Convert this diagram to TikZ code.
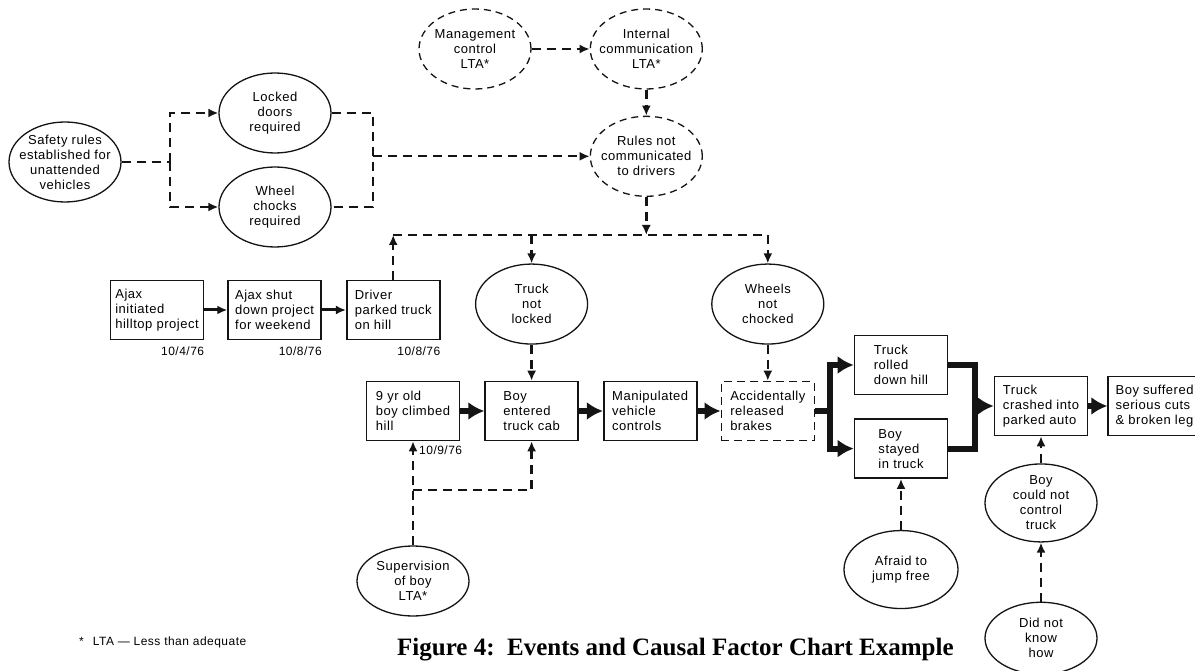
\documentclass[tikz,border=0pt]{standalone}
\usepackage{fontspec}
\usepackage{xcolor}
\usepackage{tikz}
\usetikzlibrary{calc, arrows.meta, shapes.geometric, positioning}
\newfontfamily\chartfont[LetterSpace=4]{Liberation Sans}
\newfontfamily\captionfont{Liberation Serif}
\newcommand{\chartsize}{\fontsize{13pt}{15pt}\selectfont}
\newcommand{\datesize}{\fontsize{12pt}{14pt}\selectfont}
\definecolor{inkblack}{HTML}{141414}
\tikzset{
  eventbox/.style={
    rectangle, draw=inkblack, line width=1.6pt, fill=white,
    minimum width=93pt, minimum height=59pt, inner sep=3pt,
    align=left, font=\chartfont\chartsize
  },
  guessbox/.style={eventbox, dash pattern=on 8pt off 5pt},
  factor/.style={
    ellipse, draw=inkblack, line width=1.3pt, fill=white,
    minimum width=112pt, minimum height=80pt,
    inner xsep=-30pt, inner ysep=-20pt,
    align=center, font=\chartfont\chartsize
  },
  lfactor/.style={factor, dash pattern=on 7pt off 5pt},
  datelabel/.style={inner sep=0pt, font=\chartfont\datesize},
  causal/.style={line width=2.4pt, dash pattern=on 9pt off 6pt, color=inkblack},
  causalarrow/.style={causal, -{Latex[length=10pt, width=9pt]}},
  datearrow/.style={line width=3pt, color=inkblack, -{Latex[length=10pt, width=9pt]}},
  eventline/.style={line width=6pt, color=inkblack},
  eventarrow/.style={eventline, -{Latex[length=16pt, width=18pt]}},
}

\begin{document}
\begin{tikzpicture}[x=1pt, y=-1pt]
  \useasboundingbox (0,0) rectangle (1195,671);
  \fill[white] (0,0) rectangle (1195,671);

  % --- Regler ---
  \node[factor] (safety) at (65,162) {Safety rules\\established for\\unattended\\vehicles};
  \node[factor] (locked) at (275,113) {Locked\\doors\\required};
  \node[factor] (chocks) at (275,207) {Wheel\\chocks\\required};

  % --- Ledelse ---
  \node[lfactor] (mgmt) at (475,49) {Management\\control\\LTA*};
  \node[lfactor, right=58pt of mgmt] (intcomm) {Internal\\communication\\LTA*};
  \node[lfactor, below=26pt of intcomm] (rules) {Rules not\\communicated\\to drivers};

  % --- Ajax-forløb ---
  \node[eventbox] (ajaxinit) at (157,310) {Ajax\\initiated\\hilltop project};
  \node[eventbox, right=23pt of ajaxinit] (ajaxshut) {Ajax shut\\down project\\for weekend};
  \node[eventbox, right=24pt of ajaxshut] (driver) {Driver\\parked truck\\on hill};

  \node[datelabel, anchor=north east] (dateinit) at ([yshift=-6pt]ajaxinit.south east) {10/4/76};
  \node[datelabel, anchor=north east] (dateshut) at ([yshift=-6pt]ajaxshut.south east) {10/8/76};
  \node[datelabel, anchor=north east] (datepark) at ([yshift=-6pt]driver.south east) {10/8/76};

  % --- Hovedforløb ---
  \node[eventbox] (climb) at (413,411) {9 yr old\\boy climbed\\hill};
  \node[eventbox, right=24pt of climb] (entered) {Boy\\entered\\truck cab};
  \node[eventbox, right=24pt of entered] (manip) {Manipulated\\vehicle\\controls};
  \node[guessbox, right=23pt of manip] (brakes) {Accidentally\\released\\brakes};
  \node[datelabel, anchor=north west] (dateclimb) at ([xshift=6pt, yshift=-4pt]climb.south) {10/9/76};

  \node[factor, above=36pt of entered] (trucklock) {Truck\\not\\locked};
  \node[factor, above=36pt of brakes] (wheels) {Wheels\\not\\chocked};
  \node[factor, minimum height=70pt] (supervise) at (413,581) {Supervision\\of boy\\LTA*};

  % --- Udfald ---
  \node[eventbox] (rolled) at (901,365) {Truck\\rolled\\down hill};
  \node[eventbox, below=23pt of rolled] (stayed) {Boy\\stayed\\in truck};
  \node[eventbox] (crashed) at (1041,406) {Truck\\crashed into\\parked auto};
  \node[eventbox, right=19pt of crashed] (injured) {Boy suffered\\serious cuts\\\& broken leg};

  \node[factor, minimum width=114pt, minimum height=78pt, below=51pt of stayed] (afraid) {Afraid to\\jump free};
  \node[factor, minimum height=78pt, below=27pt of crashed] (control) {Boy\\could not\\control\\truck};
  \node[factor, minimum height=72pt, below=59pt of control] (knowhow) {Did not\\know\\how};

  % --- Knudepunkter ---
  \coordinate (split) at (safety.east -| 170,0);
  \coordinate (join) at (rules.west -| 373,0);
  \coordinate (bus) at (rules.south |- 0,235);
  \coordinate (supfork) at (413,490);
  \coordinate (brakefork) at (brakes.east -| 830,0);
  \coordinate (rolljoin) at (crashed.west -| 975,0);

  % --- Regler -> kommunikation ---
  \draw[causal] (safety.east) -- (split);
  \draw[causalarrow] (split) |- (locked.west);
  \draw[causalarrow] (split) |- (chocks.west);
  \draw[causal] (locked.east) -| (join) |- (chocks.east);
  \draw[causalarrow] (join) -- (rules.west);
  \draw[causalarrow] (mgmt.east) -- (intcomm.west);
  \draw[causalarrow] (intcomm.south) -- (rules.north);

  % --- Fælles linje ---
  \draw[causalarrow] (rules.south) -- (bus);
  \draw[causalarrow] (driver.north) -- (driver.north |- bus);
  \draw[causal] (driver.north |- bus) -- (wheels.north |- bus);
  \draw[causalarrow] (trucklock.north |- bus) -- (trucklock.north);
  \draw[causalarrow] (wheels.north |- bus) -- (wheels.north);
  \draw[causalarrow] (trucklock.south) -- (entered.north);
  \draw[causalarrow] (wheels.south) -- (brakes.north);

  % --- Tilsyn ---
  \draw[causalarrow] (supervise.north) -- (climb.south);
  \draw[causalarrow] (supfork) -| (entered.south);

  % --- Hændelser ---
  \draw[datearrow] (ajaxinit) -- (ajaxshut);
  \draw[datearrow] (ajaxshut) -- (driver);
  \draw[eventarrow] (climb) -- (entered);
  \draw[eventarrow] (entered) -- (manip);
  \draw[eventarrow] (manip) -- (brakes);
  \draw[eventline] (brakes.east) -- (brakefork);
  \draw[eventarrow] (brakefork) |- (rolled.west);
  \draw[eventarrow] (brakefork) |- (stayed.west);
  \draw[eventline] (rolled.east) -| (rolljoin) |- (stayed.east);
  \draw[eventarrow] (rolljoin) -- (crashed.west);
  \draw[eventarrow] (crashed) -- (injured);

  % --- Årsager til udfald ---
  \draw[causalarrow] (afraid.north) -- (stayed.south);
  \draw[causalarrow] (control.north) -- (crashed.south);
  \draw[causalarrow] (knowhow.north) -- (control.south);

  % --- Fodnote og titel ---
  \node[anchor=west, inner sep=0pt, font=\chartfont\datesize] (ltanote) at (79,642)
    {*\hspace{9pt}LTA — Less than adequate};
  \node[anchor=base west, inner sep=0pt,
        font=\captionfont\bfseries\fontsize{25pt}{30pt}\selectfont] (caption) at (397,655)
    {Figure 4:\ \ Events and Causal Factor Chart Example};

\end{tikzpicture}
\end{document}
